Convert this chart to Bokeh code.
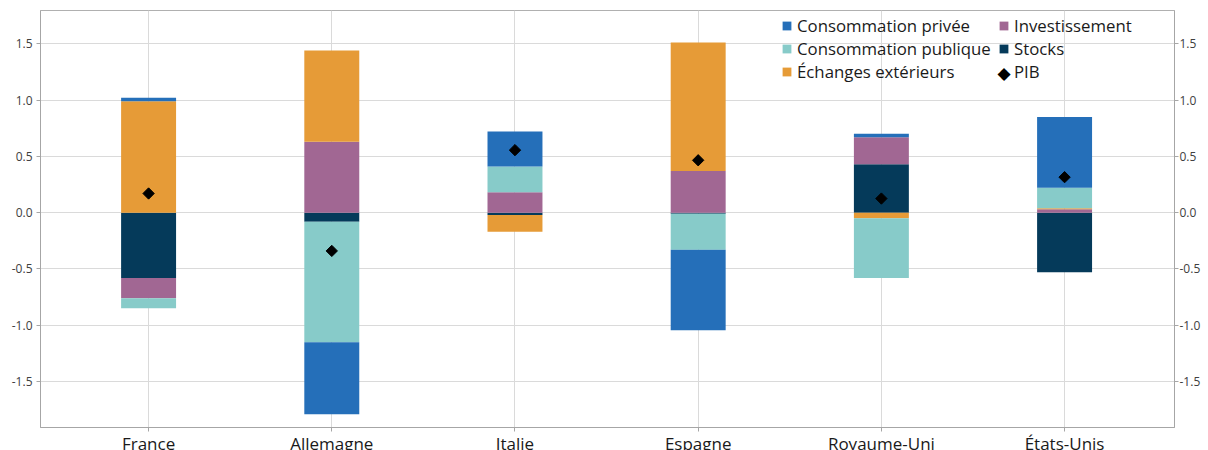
import math
from bokeh.plotting import figure
from bokeh.models import (Range1d, FixedTicker, NumeralTickFormatter, LinearAxis,
                          Legend, LegendItem, ColumnDataSource, Label)
from bokeh.embed import file_html
from bokeh.resources import INLINE

# ---- data (points de pourcentage) ----
pays = ["France", "Allemagne", "Italie", "Espagne", "Royaume-Uni", "États-Unis"]
conso_privee = [0.03, -0.64, 0.31, -0.715, 0.03, 0.63]
conso_publique = [-0.09, -1.07, 0.23, -0.32, -0.53, 0.18]
investissement = [-0.18, 0.63, 0.18, 0.37, 0.24, 0.03]
stocks = [-0.58, -0.08, -0.02, -0.01, 0.43, -0.53]
echanges = [0.99, 0.81, -0.15, 1.14, -0.05, 0.01]
pib = [0.17, -0.34, 0.555, 0.465, 0.125, 0.315]
y_ticks = [-1.5, -1.0, -0.5, 0.0, 0.5, 1.0, 1.5]

x_pos = list(range(len(pays)))

# stacking order (bottom -> top)
series = [
    ("Stocks", stocks, "#053a5a"),
    ("Investissement", investissement, "#a16793"),
    ("Échanges extérieurs", echanges, "#e69b37"),
    ("Consommation publique", conso_publique, "#87cbc9"),
    ("Consommation privée", conso_privee, "#256fb9"),
]

FONT = "Open Sans"

p = figure(width=1208, height=457, output_backend="svg", toolbar_location=None,
           x_range=Range1d(-0.59, 5.6), y_range=Range1d(-1.908, 1.795),
           min_border_left=40, min_border_right=34, min_border_top=10,
           min_border_bottom=30)
p.background_fill_color = "white"
p.border_fill_color = "white"
p.outline_line_color = "#b0b0b0"

pos = [0.0] * len(pays)
neg = [0.0] * len(pays)
rend = {}
for name, vals, color in series:
    bottoms, tops = [], []
    for i, v in enumerate(vals):
        if v >= 0:
            b = pos[i]; t = b + v; pos[i] = t
        else:
            b = neg[i]; t = b + v; neg[i] = t
        bottoms.append(b); tops.append(t)
    src = ColumnDataSource(dict(x=x_pos, bottom=bottoms, top=tops))
    rend[name] = p.vbar(x="x", bottom="bottom", top="top", width=0.3, source=src,
                        fill_color=color, line_color=None)

pib_src = ColumnDataSource(dict(x=x_pos, y=pib))
p.scatter(x="x", y="y", source=pib_src, marker="square",
          angle=math.pi / 4, size=8, fill_color="black", line_color="black")
# invisible stand-in for the PIB legend entry (diamond drawn as a text glyph)
rend["PIB"] = p.scatter(x=[], y=[], marker="square", size=1,
                        fill_alpha=0, line_alpha=0)

# ---- axes ----
p.xaxis.ticker = FixedTicker(ticks=x_pos)
p.xaxis.major_label_overrides = {i: n for i, n in enumerate(pays)}
p.xaxis.major_label_text_font = FONT
p.xaxis.major_label_text_font_size = "17px"
p.xaxis.major_label_text_color = "#1a1a1a"
p.xaxis.major_label_standoff = 0
p.xaxis.axis_line_color = "#a6a6a6"
p.xaxis.major_tick_line_color = "#a6a6a6"
p.xaxis.major_tick_out = 4
p.xaxis.major_tick_in = 0
p.xaxis.minor_tick_line_color = None

yr = LinearAxis()
p.add_layout(yr, "right")
for ax, stand in ((p.yaxis[0], 4), (yr, 1)):
    ax.ticker = FixedTicker(ticks=y_ticks)
    ax.formatter = NumeralTickFormatter(format="0.0")
    ax.major_label_text_font = FONT
    ax.major_label_text_font_size = "12px"
    ax.major_label_text_color = "#404040"
    ax.major_label_standoff = stand
    ax.axis_line_color = "#a6a6a6"
    ax.major_tick_line_color = "#a6a6a6"
    ax.major_tick_out = 4
    ax.major_tick_in = 0
    ax.minor_tick_line_color = None

p.ygrid.ticker = FixedTicker(ticks=y_ticks)
p.xgrid.ticker = FixedTicker(ticks=x_pos)
p.ygrid.grid_line_color = "#dadada"
p.xgrid.grid_line_color = "#dadada"

# ---- legends ----
def make_legend(names, loc):
    lg = Legend(items=[LegendItem(label=n, renderers=[rend[n]]) for n in names],
                location=loc, orientation="vertical")
    lg.label_text_font = FONT
    lg.label_text_font_size = "16.8px"
    lg.label_text_color = "#1a1a1a"
    lg.glyph_width = 11
    lg.glyph_height = 11
    lg.label_standoff = 5
    lg.label_height = 20
    lg.spacing = 0
    lg.padding = 0
    lg.margin = 0
    lg.border_line_color = None
    lg.background_fill_alpha = 0
    return lg

p.add_layout(make_legend(["Consommation privée", "Consommation publique", "Échanges extérieurs"],
                         (741, 344)), "center")
p.add_layout(make_legend(["Investissement", "Stocks", "PIB"], (958, 344)), "center")
p.add_layout(Label(x=963.5, y=355, x_units="screen", y_units="screen", text="◆",
                   text_font="DejaVu Sans", text_font_size="17px", text_color="black",
                   text_align="center", text_baseline="middle"))

open("out.html", "w").write(file_html(p, INLINE))
